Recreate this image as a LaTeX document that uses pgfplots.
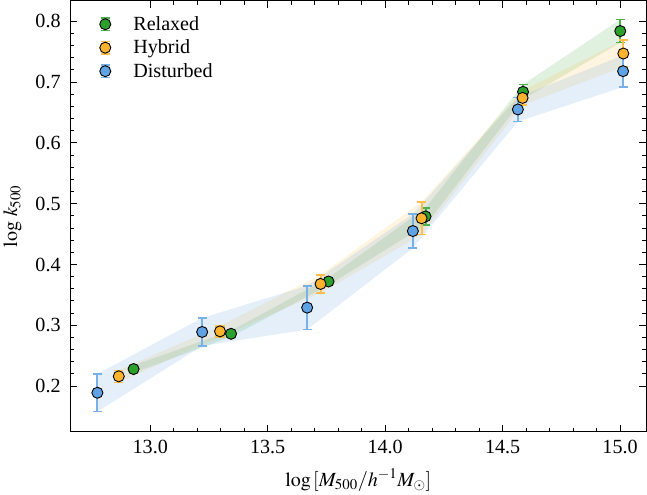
\documentclass[border=0pt]{standalone}
\usepackage{pgfplots}
\pgfplotsset{compat=1.18}
\usepackage{pgfplotstable}
\usepgfplotslibrary{fillbetween}
\usepackage{mathptmx}
\usepackage{fontspec}
\setmainfont{Liberation Serif}
\definecolor{cR}{RGB}{44,160,44}
\definecolor{cH}{RGB}{253,179,45}
\definecolor{cD}{RGB}{95,163,228}
\pgfplotstableread{
x y e
12.929 0.228 0.006
13.344 0.286 0.005
13.759 0.372 0.006
14.172 0.479 0.014
14.587 0.684 0.012
15.001 0.784 0.019
}\relaxed
\pgfplotstableread{
x y e
12.866 0.216 0.010
13.297 0.290 0.009
13.725 0.368 0.015
14.155 0.476 0.027
14.585 0.674 0.012
15.014 0.747 0.022
}\hybrid
\pgfplotstableread{
x y e
12.775 0.189 0.031
13.221 0.289 0.023
13.668 0.329 0.036
14.118 0.455 0.028
14.565 0.655 0.020
15.013 0.718 0.026
}\disturbed
\newcommand{\fs}{\fontsize{20}{24}\selectfont}
\pgfplotsset{
  errpts/.style={
    only marks, mark=*, mark size=5.5pt,
    mark options={fill=#1, draw=black, line width=0.9pt},
    error bars/y dir=both, error bars/y explicit,
    error bars/error bar style={draw=#1!85, line width=2pt, solid},
    error bars/error mark options={rotate=90, mark size=4.5pt, draw=#1!85, line width=1.5pt},
  },
  errleg/.style={
    legend image code/.code={
      \draw[#1!85, line width=2pt] (0cm,-0.22cm) -- (0cm,0.22cm);
      \draw[#1!85, line width=1.5pt] (-0.16cm,-0.22cm) -- (0.16cm,-0.22cm) (-0.16cm,0.22cm) -- (0.16cm,0.22cm);
      \fill[#1, draw=black, line width=0.9pt] (0cm,0) circle (5.5pt);},
  },
}
\begin{document}
\begin{tikzpicture}
\begin{axis}[
  scale only axis,
  width=573.5pt, height=429pt,
  xmin=12.659, xmax=15.112,
  ymin=0.125, ymax=0.834,
  xtick={13,13.5,14,14.5,15},
  ytick={0.2,0.3,0.4,0.5,0.6,0.7,0.8},
  minor x tick num=4,
  minor y tick num=4,
  tick align=inside,
  xtick pos=both, ytick pos=both,
  major tick length=7pt, minor tick length=4pt,
  every tick/.style={black, line width=1pt},
  axis line style={line width=1.3pt},
  /pgf/number format/assume math mode=true,
  xticklabel style={yshift=-5pt, /pgf/number format/.cd, fixed, fixed zerofill, precision=1},
  yticklabel style={xshift=-6pt, /pgf/number format/.cd, fixed, fixed zerofill, precision=1},
  tick label style={font=\fs},
  label style={font=\fs},
  xlabel={$\log\,[M_{500}/h^{-1}M_\odot]$},
  ylabel={$\log\,k_{500}$},
  xlabel style={yshift=-8pt},
  ylabel style={yshift=7pt},
  legend style={draw=none, fill=none, font=\fs, at={(rel axis cs:0.045,0.973)}, anchor=north west, row sep=4pt,
    nodes={inner sep=2pt},
    /tikz/every odd column/.append style={column sep=20pt}},
  legend cell align=left,
]
% bands
\addplot[name path=Ru, draw=none, forget plot] table[x=x, y expr=\thisrow{y}+\thisrow{e}]{\relaxed};
\addplot[name path=Rl, draw=none, forget plot] table[x=x, y expr=\thisrow{y}-\thisrow{e}]{\relaxed};
\addplot[fill=cR, fill opacity=0.15, draw=none, forget plot] fill between[of=Ru and Rl];
\addplot[name path=Hu, draw=none, forget plot] table[x=x, y expr=\thisrow{y}+\thisrow{e}]{\hybrid};
\addplot[name path=Hl, draw=none, forget plot] table[x=x, y expr=\thisrow{y}-\thisrow{e}]{\hybrid};
\addplot[fill=cH, fill opacity=0.15, draw=none, forget plot] fill between[of=Hu and Hl];
\addplot[name path=Du, draw=none, forget plot] table[x=x, y expr=\thisrow{y}+\thisrow{e}]{\disturbed};
\addplot[name path=Dl, draw=none, forget plot] table[x=x, y expr=\thisrow{y}-\thisrow{e}]{\disturbed};
\addplot[fill=cD, fill opacity=0.17, draw=none, forget plot] fill between[of=Du and Dl];
% points
\addplot[errpts=cR, forget plot] table[x=x, y=y, y error=e]{\relaxed};
\addplot[errpts=cH, forget plot] table[x=x, y=y, y error=e]{\hybrid};
\addplot[errpts=cD, forget plot] table[x=x, y=y, y error=e]{\disturbed};
\addlegendimage{errleg=cR}
\addlegendentry{Relaxed}
\addlegendimage{errleg=cH}
\addlegendentry{Hybrid}
\addlegendimage{errleg=cD}
\addlegendentry{Disturbed}
\end{axis}
\end{tikzpicture}
\end{document}
